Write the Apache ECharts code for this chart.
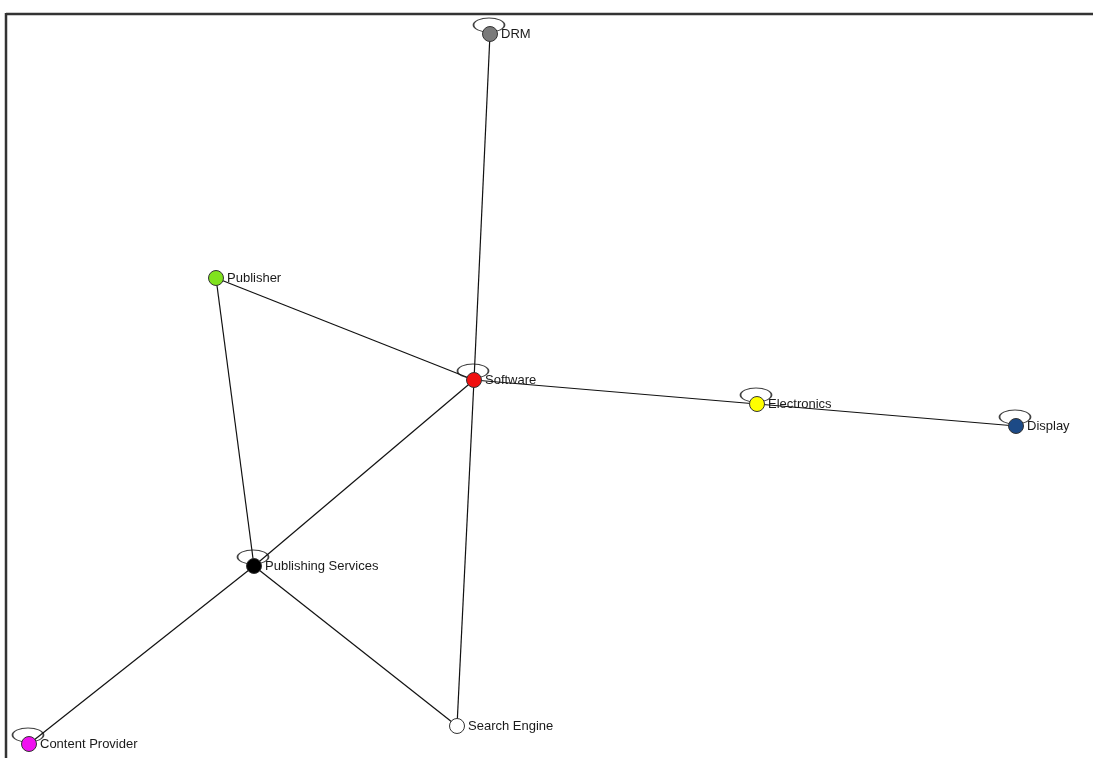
<!DOCTYPE html>
<html><head><meta charset="utf-8">
<script src="https://cdn.jsdelivr.net/npm/echarts@6/dist/echarts.min.js"></script>
<style>html,body{margin:0;padding:0;background:#fff}#c{width:1093px;height:758px}</style>
</head><body><div id="c"></div>
<script>
const nodeNames = ['DRM','Publisher','Software','Electronics','Display','Publishing Services','Content Provider','Search Engine'];
const nodeX = [490, 216, 474, 757, 1016, 254, 29, 457];
const nodeY = [34, 278, 380, 404, 426, 566, 744, 726];
const edgeSources = ['DRM','Publisher','Publisher','Software','Electronics','Software','Software','Publishing Services','Publishing Services'];
const edgeTargets = ['Software','Software','Publishing Services','Electronics','Display','Publishing Services','Search Engine','Content Provider','Search Engine'];
const selfLoops = ['DRM','Software','Electronics','Display','Publishing Services','Content Provider'];

const nodeColors = {
  'DRM':'#7a7a7a','Publisher':'#80e21e','Software':'#f01010','Electronics':'#ffff00',
  'Display':'#1c4a86','Publishing Services':'#000000','Content Provider':'#f010f0','Search Engine':'#ffffff'
};

const chart = echarts.init(document.getElementById('c'), null, {renderer:'canvas'});
const idx = n => nodeNames.indexOf(n);

chart.setOption({
  animation: false,
  backgroundColor: '#ffffff',
  grid: {left:0, right:0, top:0, bottom:0},
  xAxis: {type:'value', min:0, max:1093, show:false},
  yAxis: {type:'value', min:0, max:758, inverse:true, show:false},
  graphic: [
    {type:'line', shape:{x1:6, y1:14, x2:1093, y2:14}, style:{stroke:'#333', lineWidth:2.5}, z:0},
    {type:'line', shape:{x1:6, y1:13, x2:6, y2:758}, style:{stroke:'#333', lineWidth:2.5}, z:0}
  ],
  series: [
    {
      type:'scatter', z:1, silent:true,
      symbol:'path://M0,6A16,6,0,1,1,32,6A16,6,0,1,1,0,6Z',
      symbolSize:[31,14], symbolOffset:[-1,-9],
      itemStyle:{color:'none', borderColor:'#111', borderWidth:1.2},
      data: selfLoops.map(n => [nodeX[idx(n)], nodeY[idx(n)]])
    },
    {
      type:'graph', coordinateSystem:'cartesian2d', z:3,
      symbol:'circle', symbolSize:15,
      itemStyle:{borderColor:'#333', borderWidth:1},
      label:{show:true, position:'right', distance:3, formatter:'{b}', fontSize:13, color:'#1a1a1a', fontFamily:'Liberation Sans'},
      lineStyle:{color:'#111', width:1.2, opacity:1, curveness:0},
      emphasis:{disabled:true},
      data: nodeNames.map((n,i) => ({name:n, value:[nodeX[i], nodeY[i]], itemStyle:{color:nodeColors[n]}})),
      links: edgeSources.map((s,i) => ({source:s, target:edgeTargets[i]}))
    }
  ]
});
</script></body></html>
